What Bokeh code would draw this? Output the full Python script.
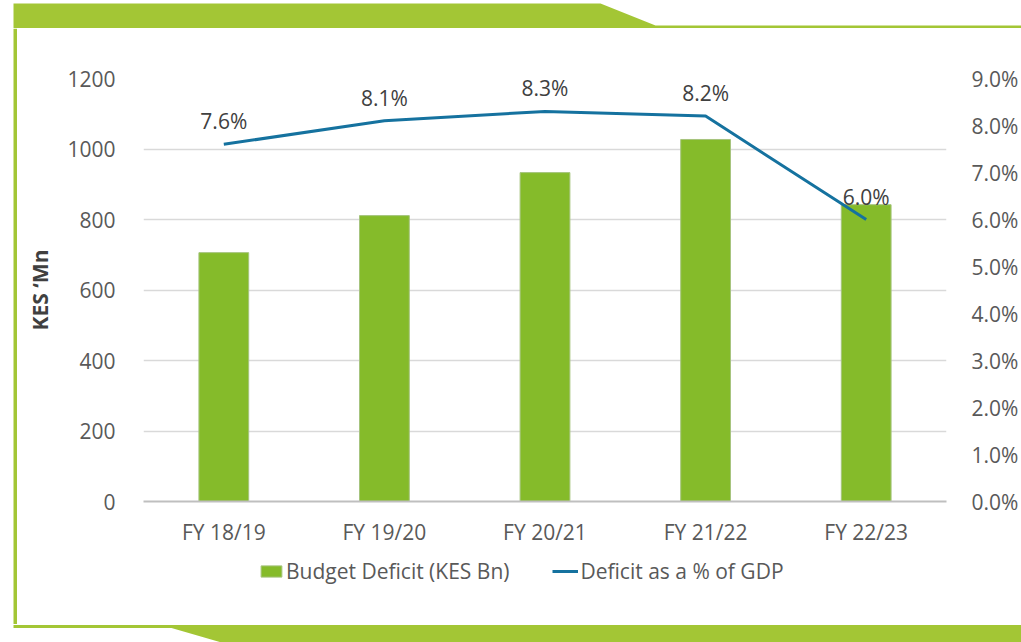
from bokeh.plotting import figure
from bokeh.layouts import column, row
from bokeh.models import (ColumnDataSource, FactorRange, Range1d, LinearAxis,
                          Legend, LegendItem, FixedTicker, CustomJSTickFormatter)
from bokeh.core.properties import value
from bokeh.embed import file_html
from bokeh.resources import INLINE

# ---- data ----
years = ["FY 18/19", "FY 19/20", "FY 20/21", "FY 21/22", "FY 22/23"]
deficit_bn = [706, 811, 933, 1027, 842]
deficit_pct = [7.6, 8.1, 8.3, 8.2, 6.0]
pct_labels = ["7.6%", "8.1%", "8.3%", "8.2%", "6.0%"]
left_ticks = [0, 200, 400, 600, 800, 1000, 1200]
right_ticks = [0, 1, 2, 3, 4, 5, 6, 7, 8, 9]
series_names = ["Budget Deficit (KES Bn)", "Deficit as a % of GDP"]
y_title = "KES \u2018Mn"

FONT = "Open Sans"
TXT = "#595959"
BAR = "#85BB2A"
BAR_EDGE = "#A6C47E"
LINE = "#15729F"
FRAME_GREEN = "#A3C635"
FS = "21px"

src = ColumnDataSource(dict(x=years, bn=deficit_bn, pct=deficit_pct, lab=pct_labels))


def strip(w, h):
    s = figure(width=w, height=h, x_range=Range1d(0, w), y_range=Range1d(h, 0),
               x_axis_location=None, y_axis_location=None, output_backend="svg",
               toolbar_location=None, min_border=0)
    s.outline_line_color = None
    s.xgrid.visible = False
    s.ygrid.visible = False
    return s


# ---- decorative frame pieces ----
top = strip(1021, 28)
top.patch([13, 600, 655, 1021, 1021, 13], [3, 3, 25, 25, 28, 28],
          fill_color=FRAME_GREEN, line_color=None)

left = strip(17, 596)
left.quad(left=[13], right=[16.5], top=[0], bottom=[596],
          fill_color=FRAME_GREEN, line_color=None)

bottom = strip(1021, 18)
bottom.patch([13, 1021, 1021, 221, 171, 13], [0.5, 0.5, 18, 18, 3.5, 3.5],
             fill_color=FRAME_GREEN, line_color=None)

# ---- main chart ----
p = figure(width=1004, height=520, x_range=FactorRange(*years, range_padding=0),
           y_range=Range1d(0, 1200), output_backend="svg", toolbar_location=None,
           min_border_left=126, min_border_right=74, min_border_top=50,
           min_border_bottom=47)
p.outline_line_color = None
p.extra_y_ranges = {"pct": Range1d(0, 9)}

bars = p.vbar(x="x", top="bn", width=0.31, source=src, fill_color=BAR,
              line_color=BAR_EDGE, line_width=1)
ln = p.line(x="x", y="pct", source=src, y_range_name="pct", line_color=LINE,
            line_width=3)
p.text(x="x", y="pct", text="lab", source=src, y_range_name="pct",
       text_font=value(FONT), text_font_size=FS, text_color="#404040",
       text_align="center", text_baseline="bottom", y_offset=-9)

xa = p.xaxis[0]
xa.axis_line_color = "#BFBFBF"
xa.axis_line_width = 2
xa.major_tick_line_color = None
xa.minor_tick_line_color = None
xa.major_label_text_font = FONT
xa.major_label_text_font_size = FS
xa.major_label_text_color = TXT
xa.major_label_standoff = 10

ya = p.yaxis[0]
ya.ticker = FixedTicker(ticks=left_ticks)
ya.axis_line_color = None
ya.major_tick_line_color = None
ya.minor_tick_line_color = None
ya.major_label_text_font = FONT
ya.major_label_text_font_size = FS
ya.major_label_text_color = TXT
ya.major_label_standoff = 22
ya.axis_label = y_title
ya.axis_label_text_font = FONT
ya.axis_label_text_font_size = "21px"
ya.axis_label_text_font_style = "bold"
ya.axis_label_text_color = "#404040"
ya.axis_label_standoff = 10

ra = LinearAxis(y_range_name="pct", ticker=FixedTicker(ticks=right_ticks))
ra.formatter = CustomJSTickFormatter(code="return tick.toFixed(1) + '%';")
ra.axis_line_color = None
ra.major_tick_line_color = None
ra.minor_tick_line_color = None
ra.major_label_text_font = FONT
ra.major_label_text_font_size = FS
ra.major_label_text_color = TXT
ra.major_label_standoff = 19
p.add_layout(ra, "right")

p.xgrid.grid_line_color = None
p.ygrid.grid_line_color = "#D9D9D9"
p.ygrid.grid_line_width = 1.5
p.ygrid[0].ticker = FixedTicker(ticks=left_ticks)

# ---- legend strip (same series, renderers hidden; legend only) ----
lg = figure(width=1004, height=76, x_range=FactorRange(*years, range_padding=0),
            y_range=Range1d(-2, -1), x_axis_location=None, y_axis_location=None,
            output_backend="svg", toolbar_location=None, min_border_left=126,
            min_border_right=74, min_border_top=0, min_border_bottom=0)
lg.outline_line_color = None
lg.xgrid.visible = False
lg.ygrid.visible = False
lbars = lg.vbar(x="x", top="bn", width=0.31, source=src, fill_color=BAR,
                line_color=BAR_EDGE, line_width=1, visible=False)
lline = lg.line(x="x", y="pct", source=src, line_color=LINE, line_width=3,
                visible=False)

legend = Legend(items=[LegendItem(label=series_names[0], renderers=[lbars]),
                       LegendItem(label=series_names[1], renderers=[lline])],
                orientation="horizontal", location=(115, 39), click_policy="none")
legend.label_text_font = FONT
legend.label_text_font_size = FS
legend.label_text_color = TXT
legend.label_height = 24
legend.glyph_width = 26
legend.glyph_height = 14
legend.label_standoff = 2
legend.spacing = 43
legend.padding = 0
legend.margin = 0
legend.border_line_color = None
legend.background_fill_alpha = 0
lg.add_layout(legend)

layout = column(top, row(left, column(p, lg, spacing=0), spacing=0), bottom, spacing=0)

open("out.html", "w").write(file_html(layout, INLINE))
